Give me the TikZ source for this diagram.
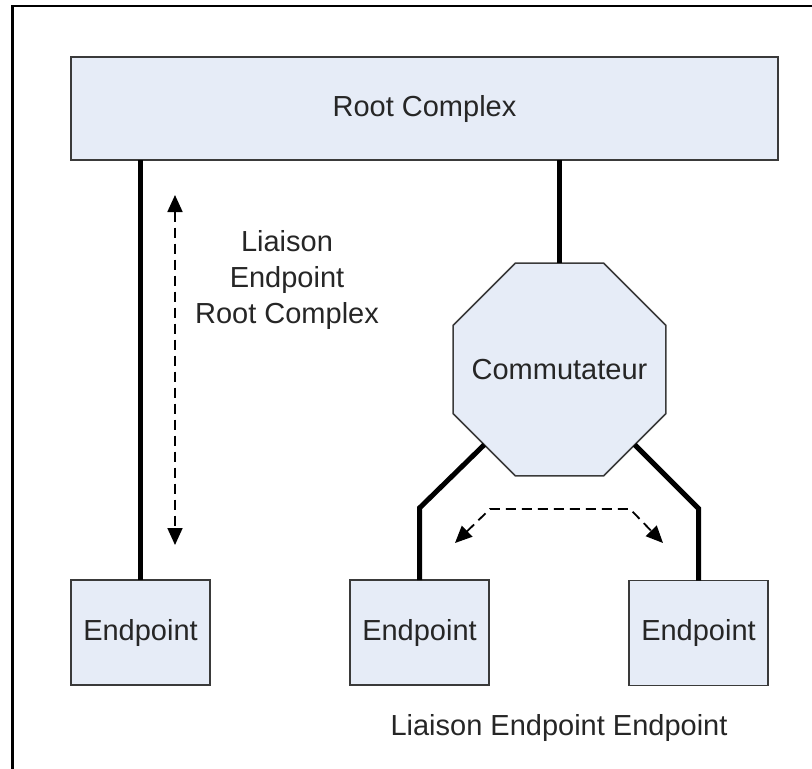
\documentclass[tikz,border=0pt]{standalone}
\usepackage{fontspec}
\setmainfont{Liberation Sans}
\usetikzlibrary{shapes.geometric,arrows.meta}
\definecolor{boxfill}{HTML}{E6ECF7}
\definecolor{boxline}{HTML}{3A3A3A}
\definecolor{txt}{HTML}{262626}
\begin{document}
\begin{tikzpicture}[x=1pt,y=-1pt,
  box/.style={draw=boxline,fill=boxfill,line width=1.5pt,inner sep=0pt,outer sep=0pt,text=txt,font=\fontsize{29}{35}\selectfont},
  link/.style={line width=5pt,black},
  rel/.style={line width=1.8pt,black,dash pattern=on 10pt off 6pt,{Triangle[length=17pt,width=15pt]}-{Triangle[length=17pt,width=15pt]}},
  lbl/.style={text=txt,font=\fontsize{29}{36}\selectfont,align=center}]
\useasboundingbox (0,0) rectangle (812,769);
\draw[line width=2.2pt,black] (812,6) -- (12.5,6) -- (12.5,769);

\node[box,minimum width=707pt,minimum height=103pt] (root) at (424.5,108.5) {Root Complex};
\node[box,regular polygon,regular polygon sides=8,minimum size=230.4pt] (sw) at (559.5,369.5) {};
\node[lbl] (swt) at (sw.center) {Commutateur};
\node[box,minimum width=139pt,minimum height=105pt] (ep1) at (140.5,632.5) {Endpoint};
\node[box,minimum width=139pt,minimum height=105pt] (ep2) at (419.5,632.5) {Endpoint};
\node[box,minimum width=139pt,minimum height=105pt] (ep3) at (698.5,633) {Endpoint};

\draw[link] (ep1.north) -- (ep1.north |- root.south);
\draw[link] (sw.north) -- (sw.north |- root.south);
\draw[link] (sw.225) -- ([yshift=72pt]ep2.north) -- (ep2.north);
\draw[link] (sw.315) -- ([yshift=72pt]ep3.north) -- (ep3.north);

\coordinate (a1) at (175,195);
\coordinate (a2) at (175,545);
\draw[rel] (a1) -- (a2);
\coordinate (b1) at (455,543);
\coordinate (b2) at (490,509);
\coordinate (b3) at (630,509);
\coordinate (b4) at (663,543);
\draw[rel] (b1) -- (b2) -- (b3) -- (b4);

\node[lbl] (l1) at (287,280) {Liaison\\Endpoint\\Root Complex};
\node[lbl] (l2) at (559,728) {Liaison Endpoint Endpoint};
\end{tikzpicture}
\end{document}
